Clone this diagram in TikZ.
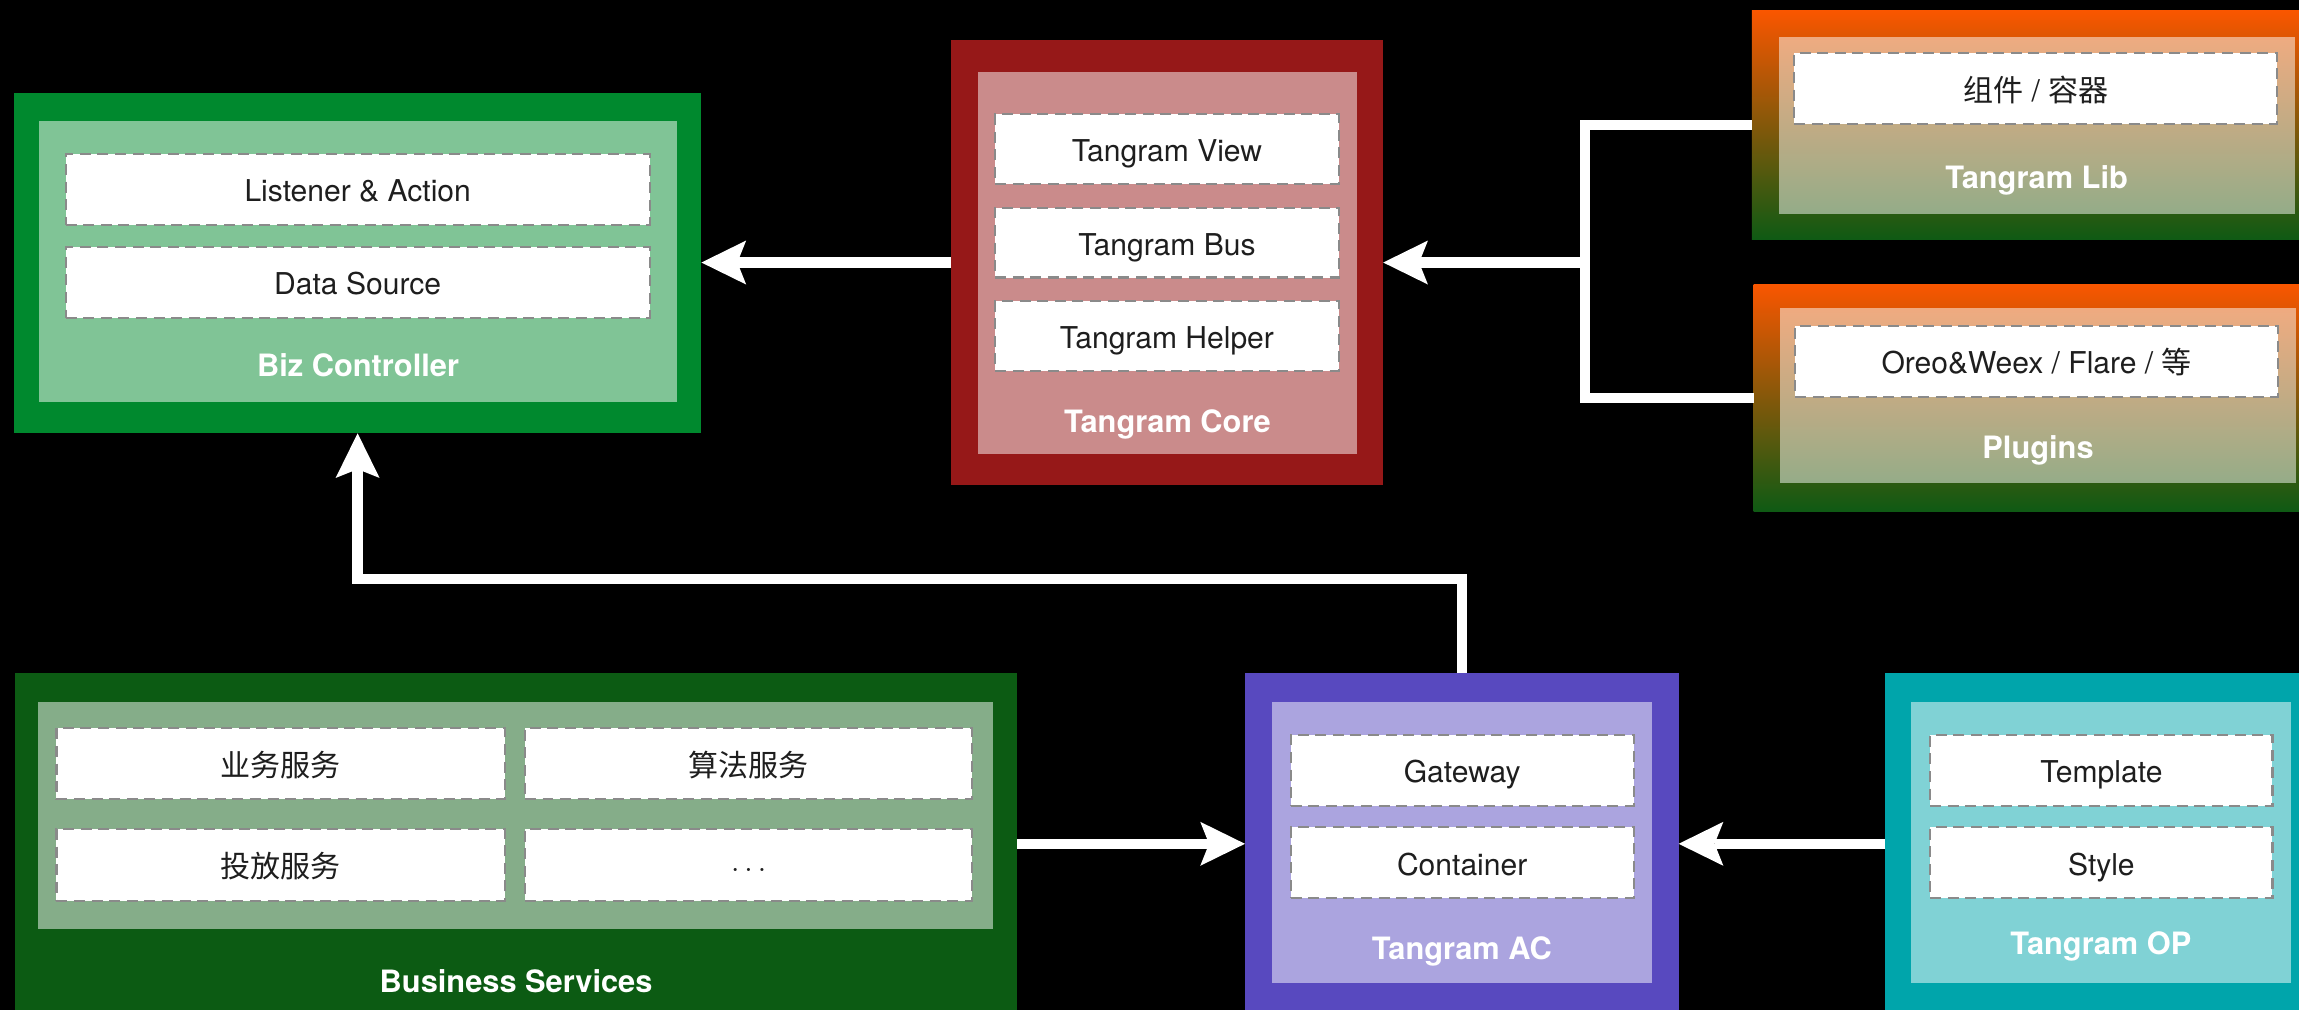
\documentclass[tikz,border=0pt]{standalone}
\usepackage{fontspec}
\setmainfont{TeX Gyre Heros}
\newfontfamily\cjk{Noto Sans CJK SC}
\newcommand\zh[1]{{\cjk #1}}
\usetikzlibrary{arrows.meta}
\definecolor{bizout}{HTML}{00892E}
\definecolor{coreout}{HTML}{961818}
\definecolor{libtop}{HTML}{F95600}
\definecolor{libbot}{HTML}{0E5A14}
\definecolor{bsout}{HTML}{0C5B13}
\definecolor{acout}{HTML}{5849BF}
\definecolor{opout}{HTML}{00A5AB}
\definecolor{dashgray}{HTML}{8A8A8A}
\definecolor{txt}{HTML}{1E1E1E}
\tikzset{
  outerbox/.style={inner sep=0pt, outer sep=0pt, anchor=north west, draw=none},
  innerbox/.style={inner sep=0pt, outer sep=0pt, anchor=north west, draw=none, fill=white, fill opacity=0.5},
  dbox/.style={inner sep=0pt, outer sep=0pt, anchor=north west, fill=white, draw=dashgray,
    line width=1.5pt, dash pattern=on 7.5pt off 4.5pt, text=txt, text height=17pt, text depth=0pt,
    font=\fontsize{20.5}{24}\selectfont},
  titletext/.style={text=white, inner sep=0pt, font=\fontsize{21}{25}\selectfont\bfseries},
  wire/.style={draw=white, line width=7pt},
  arr/.style={wire, -{Stealth[length=30.5pt,width=30pt,inset=6pt,line width=0pt]}},
}
\begin{document}
\begin{tikzpicture}[x=1pt,y=-1pt]
\useasboundingbox (0,0) rectangle (1568,688.2);
\fill[black] (-6,-6) rectangle (1574,694);
\clip (0,0) rectangle (1568,688.2);

% Biz Controller
\node[outerbox, fill=bizout, minimum width=469pt, minimum height=231.8pt] (biz) at (9.4,63.7) {};
\node[innerbox, minimum width=435.3pt, minimum height=191.5pt] (bizin) at (26.6,82.5) {};
\node[dbox, minimum width=398.3pt, minimum height=48.5pt] (bizA) at (44.8,105) {Listener \& Action};
\node[dbox, minimum width=398.3pt, minimum height=48.5pt] (bizB) at (44.8,168.2) {Data Source};
\node[titletext] (bizT) at (244.2,249) {Biz Controller};

% Tangram Core
\node[outerbox, fill=coreout, minimum width=295pt, minimum height=303.5pt] (core) at (648.4,27.3) {};
\node[innerbox, minimum width=258.9pt, minimum height=260.6pt] (corein) at (666.8,49.3) {};
\node[dbox, minimum width=234.2pt, minimum height=47.7pt] (coreA) at (678.8,78) {Tangram View};
\node[dbox, minimum width=234.2pt, minimum height=47.7pt] (coreB) at (678.8,141.6) {Tangram Bus};
\node[dbox, minimum width=234.2pt, minimum height=47.7pt] (coreC) at (678.8,205.1) {Tangram Helper};
\node[titletext] (coreT) at (796.2,289.5) {Tangram Core};

% Tangram Lib
\node[outerbox, top color=libtop, bottom color=libbot, minimum width=388pt, minimum height=156pt] (lib) at (1194.8,7.5) {};
\node[innerbox, minimum width=352.3pt, minimum height=120.5pt] (libin) at (1213,25.2) {};
\node[dbox, minimum width=329.5pt, minimum height=48.2pt] (libA) at (1223.7,36.4) {\zh{组件} / \zh{容器}};
\node[titletext] (libT) at (1389,122.8) {Tangram Lib};

% Plugins
\node[outerbox, top color=libtop, bottom color=libbot, minimum width=388pt, minimum height=155.1pt] (plug) at (1196,193.9) {};
\node[innerbox, minimum width=352.3pt, minimum height=119.2pt] (plugin) at (1213.8,210) {};
\node[dbox, minimum width=329.3pt, minimum height=48.2pt] (plugA) at (1224.4,222.3) {Oreo\&Weex / Flare / \zh{等}};
\node[titletext] (plugT) at (1390,307.4) {Plugins};

% Business Services
\node[outerbox, fill=bsout, minimum width=683.8pt, minimum height=232.6pt] (bs) at (9.9,459.2) {};
\node[innerbox, minimum width=651.5pt, minimum height=154.8pt] (bsin) at (26,479) {};
\node[dbox, minimum width=305.7pt, minimum height=48.5pt] (bsA) at (38.5,496.7) {\zh{业务服务}};
\node[dbox, minimum width=305.2pt, minimum height=48.5pt] (bsB) at (358,496.7) {\zh{算法服务}};
\node[dbox, minimum width=305.7pt, minimum height=48.7pt] (bsC) at (38.5,565.6) {\zh{投放服务}};
\node[dbox, minimum width=305.2pt, minimum height=48.7pt] (bsD) at (358,565.6) {·\,·\,·};
\node[titletext] (bsT) at (352,669.5) {Business Services};

% Tangram AC
\node[outerbox, fill=acout, minimum width=295.8pt, minimum height=232.6pt] (ac) at (849.1,459.2) {};
\node[innerbox, minimum width=259.4pt, minimum height=191.2pt] (acin) at (867.3,479) {};
\node[dbox, minimum width=233.9pt, minimum height=48.4pt] (acA) at (880.3,501.1) {Gateway};
\node[dbox, minimum width=233.9pt, minimum height=48.4pt] (acB) at (880.3,564.3) {Container};
\node[titletext] (acT) at (997,649.1) {Tangram AC};

% Tangram OP
\node[outerbox, fill=opout, minimum width=295pt, minimum height=232.6pt] (op) at (1285.8,459.2) {};
\node[innerbox, minimum width=259pt, minimum height=191.2pt] (opin) at (1303.4,479) {};
\node[dbox, minimum width=233.4pt, minimum height=48.4pt] (opA) at (1316.5,501.1) {Template};
\node[dbox, minimum width=233.4pt, minimum height=48.4pt] (opB) at (1316.5,564.3) {Style};
\node[titletext] (opT) at (1432.9,645.7) {Tangram OP};

% connectors
\coordinate (junc) at (1080.9,179.05);
\coordinate (mid) at (600,394.8);
\draw[arr] (core.west) -- (core.west -| biz.east);
\draw[wire] (lib.west) -- (lib.west -| junc) -- (plug.west -| junc) -- (plug.west);
\draw[arr] (junc) -- (junc -| core.east);
\draw[arr] (ac.north) -- (ac.north |- mid) -- (mid -| biz.south) -- (biz.south);
\draw[arr] (bs.east) -- (bs.east -| ac.west);
\draw[arr] (op.west) -- (op.west -| ac.east);
\end{tikzpicture}
\end{document}
